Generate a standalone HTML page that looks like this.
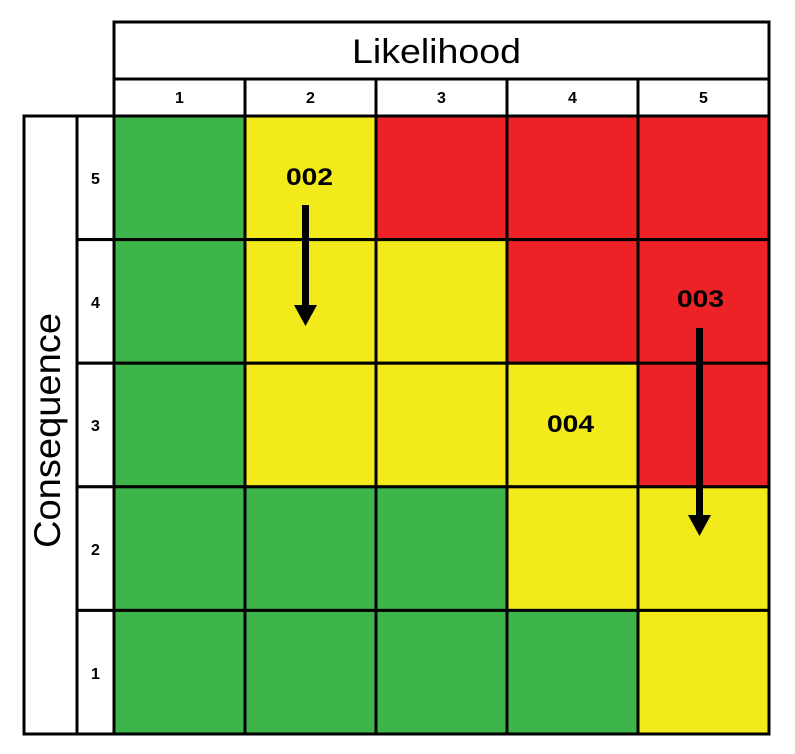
<!DOCTYPE html>
<html><head><meta charset="utf-8"><style>body{margin:0;background:#fff}svg{display:block}</style></head>
<body>
<svg width="795" height="754" xmlns="http://www.w3.org/2000/svg" font-family="Liberation Sans, Arial, sans-serif">
<rect width="795" height="754" fill="#fff"/>
<g stroke="#000" stroke-width="3">
<rect x="114" y="116" width="131" height="123.6" fill="#3db54a"/>
<rect x="245" y="116" width="131" height="123.6" fill="#f2ea1a"/>
<rect x="376" y="116" width="131" height="123.6" fill="#ec2227"/>
<rect x="507" y="116" width="131" height="123.6" fill="#ec2227"/>
<rect x="638" y="116" width="131" height="123.6" fill="#ec2227"/>
<rect x="114" y="239.6" width="131" height="123.6" fill="#3db54a"/>
<rect x="245" y="239.6" width="131" height="123.6" fill="#f2ea1a"/>
<rect x="376" y="239.6" width="131" height="123.6" fill="#f2ea1a"/>
<rect x="507" y="239.6" width="131" height="123.6" fill="#ec2227"/>
<rect x="638" y="239.6" width="131" height="123.6" fill="#ec2227"/>
<rect x="114" y="363.2" width="131" height="123.6" fill="#3db54a"/>
<rect x="245" y="363.2" width="131" height="123.6" fill="#f2ea1a"/>
<rect x="376" y="363.2" width="131" height="123.6" fill="#f2ea1a"/>
<rect x="507" y="363.2" width="131" height="123.6" fill="#f2ea1a"/>
<rect x="638" y="363.2" width="131" height="123.6" fill="#ec2227"/>
<rect x="114" y="486.8" width="131" height="123.6" fill="#3db54a"/>
<rect x="245" y="486.8" width="131" height="123.6" fill="#3db54a"/>
<rect x="376" y="486.8" width="131" height="123.6" fill="#3db54a"/>
<rect x="507" y="486.8" width="131" height="123.6" fill="#f2ea1a"/>
<rect x="638" y="486.8" width="131" height="123.6" fill="#f2ea1a"/>
<rect x="114" y="610.4" width="131" height="123.6" fill="#3db54a"/>
<rect x="245" y="610.4" width="131" height="123.6" fill="#3db54a"/>
<rect x="376" y="610.4" width="131" height="123.6" fill="#3db54a"/>
<rect x="507" y="610.4" width="131" height="123.6" fill="#3db54a"/>
<rect x="638" y="610.4" width="131" height="123.6" fill="#f2ea1a"/>
<rect x="114" y="22" width="655" height="57" fill="#fff"/>
<rect x="114" y="79" width="131" height="37" fill="#fff"/>
<rect x="245" y="79" width="131" height="37" fill="#fff"/>
<rect x="376" y="79" width="131" height="37" fill="#fff"/>
<rect x="507" y="79" width="131" height="37" fill="#fff"/>
<rect x="638" y="79" width="131" height="37" fill="#fff"/>
<rect x="24" y="116" width="53" height="618" fill="#fff"/>
<rect x="77" y="116" width="37" height="123.6" fill="#fff"/>
<rect x="77" y="239.6" width="37" height="123.6" fill="#fff"/>
<rect x="77" y="363.2" width="37" height="123.6" fill="#fff"/>
<rect x="77" y="486.8" width="37" height="123.6" fill="#fff"/>
<rect x="77" y="610.4" width="37" height="123.6" fill="#fff"/>
</g>
<text x="352" y="63" font-size="34" textLength="169" lengthAdjust="spacingAndGlyphs">Likelihood</text>
<text transform="translate(60,548) rotate(-90)" font-size="37" textLength="235" lengthAdjust="spacingAndGlyphs">Consequence</text>
<g font-size="16" font-weight="bold" text-anchor="middle">
<text x="179.5" y="103">1</text><text x="310.5" y="103">2</text><text x="441.5" y="103">3</text><text x="572.5" y="103">4</text><text x="703.5" y="103">5</text>
<text x="95.5" y="184">5</text><text x="95.5" y="308">4</text><text x="95.5" y="431">3</text><text x="95.5" y="555">2</text><text x="95.5" y="679">1</text>
</g>
<g font-size="24" font-weight="bold">
<text x="286" y="185" textLength="47" lengthAdjust="spacingAndGlyphs">002</text>
<text x="677" y="307" textLength="47" lengthAdjust="spacingAndGlyphs">003</text>
<text x="547" y="432" textLength="47" lengthAdjust="spacingAndGlyphs">004</text>
</g>
<rect x="302" y="205" width="7" height="102" fill="#000"/>
<polygon points="294,305 317,305 305.5,326" fill="#000"/>
<rect x="696" y="328" width="7" height="190" fill="#000"/>
<polygon points="688,515 711,515 699.5,536" fill="#000"/>
</svg>
</body></html>
